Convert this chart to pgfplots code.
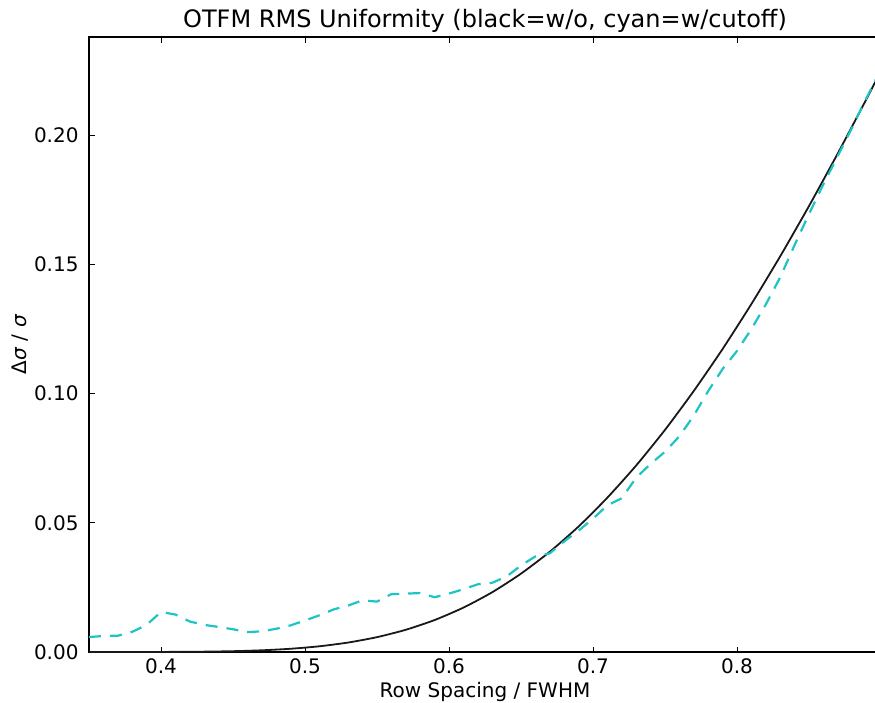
\documentclass[border=0pt]{standalone}
\usepackage{pgfplots}
\pgfplotsset{compat=1.18}
\usepackage{fontspec}
\setmainfont{DejaVu Sans}
\definecolor{cyanc}{RGB}{30,196,196}
\begin{document}
\begin{tikzpicture}
\begin{axis}[
  scale only axis,
  width=396pt, height=307.5pt,
  xmin=0.35, xmax=0.9, ymin=0, ymax=0.238,
  axis line style={line width=0.8pt},
  tick align=inside,
  major tick length=2.75pt,
  tick style={black, line width=0.5pt},
  xtick={0.4,0.5,0.6,0.7,0.8},
  ytick={0,0.05,0.10,0.15,0.20},
  minor tick num=0,
  /pgf/number format/assume math mode=true,
  xticklabel style={/pgf/number format/fixed, /pgf/number format/fixed zerofill, /pgf/number format/precision=1},
  yticklabel style={xshift=-1.7pt, /pgf/number format/fixed, /pgf/number format/fixed zerofill, /pgf/number format/precision=2},
  tick label style={font=\fontsize{10}{12}\selectfont},
  scaled ticks=false,
  title={OTFM RMS Uniformity (black=w/o, cyan=w/cutoff)},
  every axis title/.style={font=\fontsize{12}{14}\selectfont, at={(0.5,1)}, anchor=base, yshift=5pt, inner sep=0pt},
  xlabel={Row Spacing / FWHM},
  xlabel style={font=\fontsize{10}{12}\selectfont, at={(0.5,0)}, anchor=base, yshift=-22.8pt, inner sep=0pt},
  ylabel={Δ\textit{σ} / \textit{σ}},
  ylabel style={font=\fontsize{10}{12}\selectfont, at={(-0.0795,0.5)}, anchor=base, inner sep=0pt},
  clip=true,
]
\addplot[black!90, line width=0.9pt, smooth, tension=0.4] coordinates {
(0.35,0.000001) (0.37,0.000005) (0.39,0.000018) (0.41,0.000054) (0.43,0.000139)
(0.45,0.000320) (0.47,0.000663) (0.49,0.001256) (0.51,0.002216) (0.53,0.003668)
(0.55,0.005752) (0.57,0.008606) (0.59,0.01237) (0.61,0.01718) (0.63,0.02313)
(0.65,0.03033) (0.67,0.03880) (0.69,0.04858) (0.71,0.05975) (0.73,0.07220)
(0.75,0.08597) (0.77,0.10104) (0.79,0.11727) (0.81,0.13468) (0.83,0.15314)
(0.85,0.17259) (0.87,0.19296) (0.89,0.2141) (0.90,0.2249)
};
\addplot[cyanc, line width=1.1pt, dash pattern=on 6pt off 4.5pt] coordinates {
(0.35,0.0058) (0.36,0.0062) (0.37,0.0063) (0.38,0.0078) (0.39,0.0105)
(0.40,0.0155) (0.41,0.0145) (0.42,0.0118) (0.43,0.0105) (0.44,0.0097)
(0.45,0.0088) (0.46,0.0077) (0.47,0.0080) (0.48,0.0090) (0.49,0.0103)
(0.50,0.0122) (0.51,0.0142) (0.52,0.0165) (0.53,0.0180) (0.54,0.0200)
(0.55,0.0195) (0.56,0.0224) (0.57,0.0226) (0.58,0.0228) (0.59,0.0212)
(0.60,0.0226) (0.61,0.0243) (0.62,0.0262) (0.63,0.0268) (0.64,0.0292)
(0.65,0.0335) (0.66,0.0370) (0.67,0.0382) (0.68,0.0428) (0.69,0.0470)
(0.70,0.0516) (0.71,0.0568) (0.72,0.0595) (0.73,0.0675) (0.74,0.0728)
(0.75,0.0775) (0.76,0.0835) (0.77,0.0915) (0.78,0.1010) (0.79,0.1095)
(0.80,0.1165) (0.81,0.1250) (0.82,0.1345) (0.83,0.1450) (0.84,0.1575)
(0.85,0.1695) (0.86,0.1810) (0.87,0.1920) (0.88,0.2030) (0.89,0.2145)
(0.90,0.2255)
};
\end{axis}
\pgfresetboundingbox
\path[use as bounding box] ([xshift=-44.5pt,yshift=-25pt]current axis.south west) rectangle ([xshift=-3pt,yshift=18.5pt]current axis.north east);
\end{tikzpicture}
\end{document}
